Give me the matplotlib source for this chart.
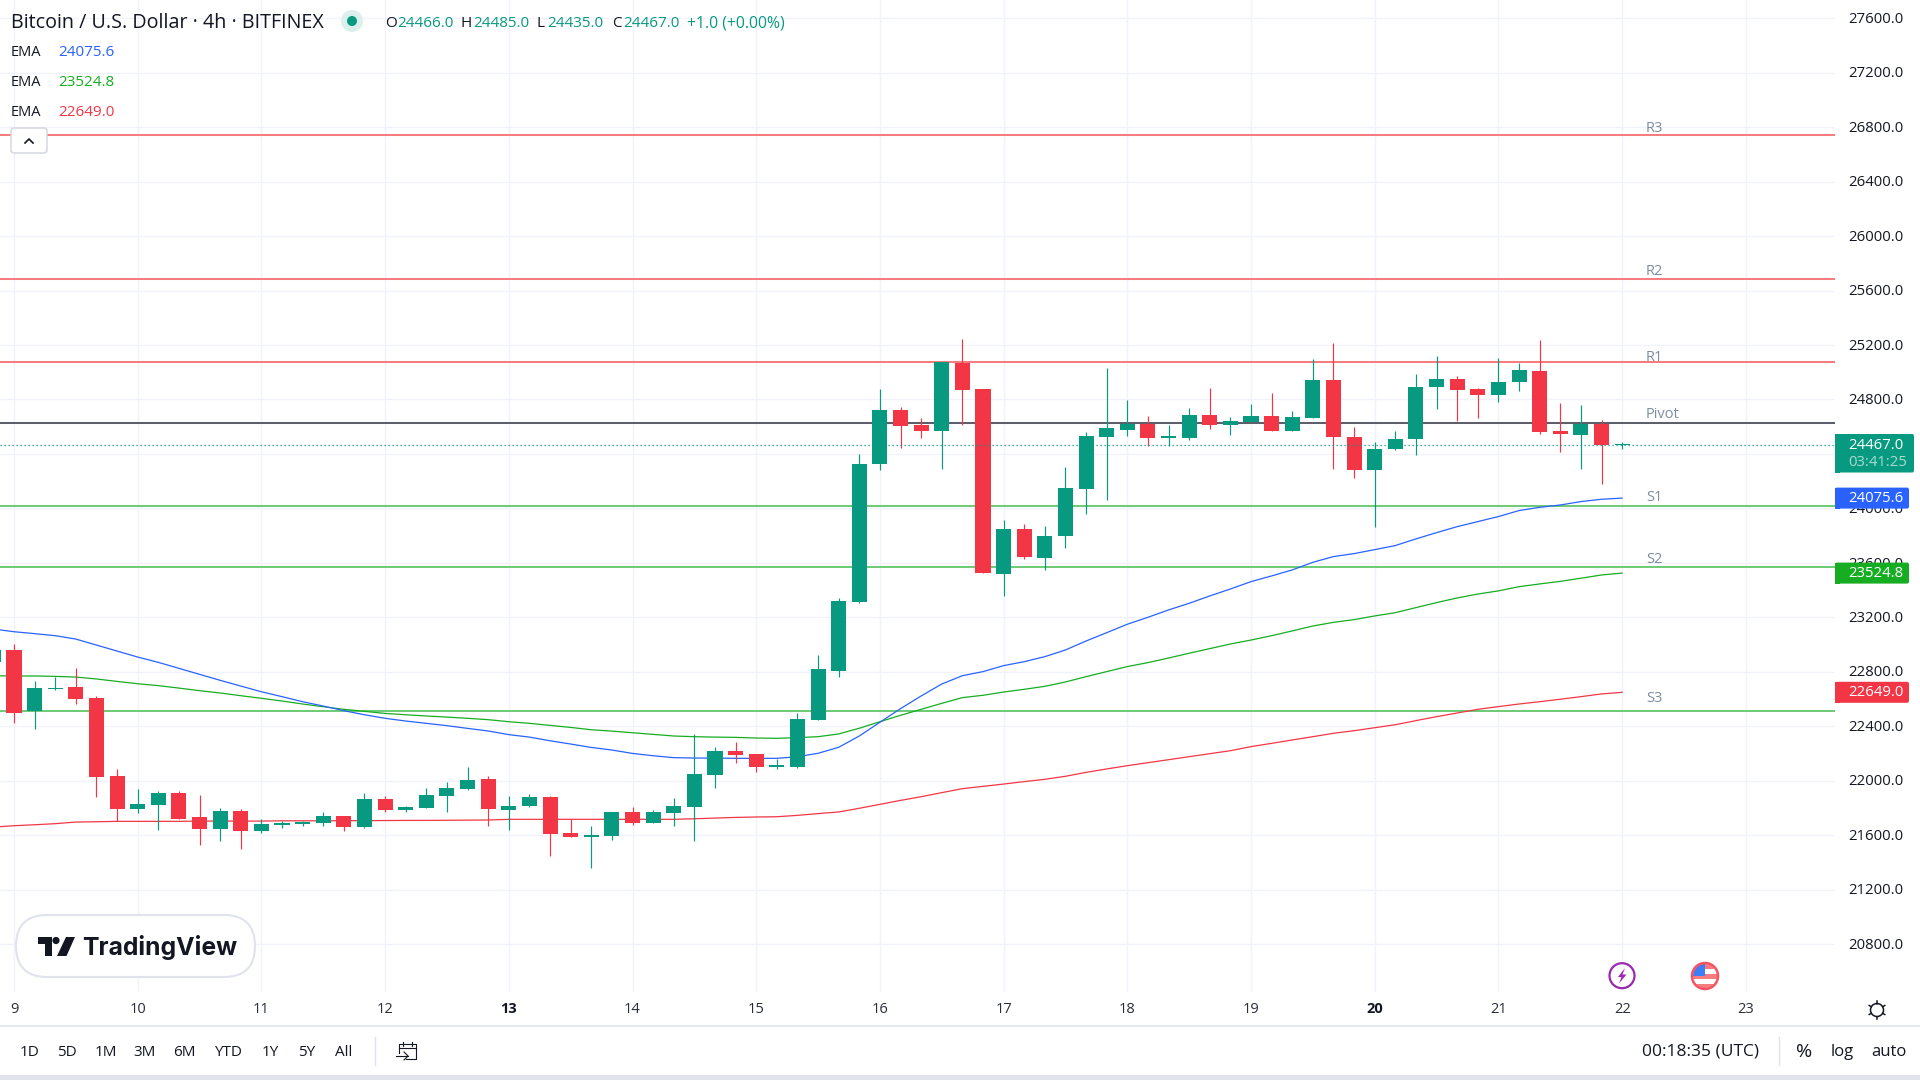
"""BTC/USD 4h chart, TradingView style"""
import numpy as np
import matplotlib
matplotlib.use('Agg')
import matplotlib.pyplot as plt
from matplotlib.patches import Circle, FancyBboxPatch, Polygon, Rectangle
from matplotlib.transforms import ScaledTranslation

plt.rcParams['font.family'] = ['Open Sans', 'DejaVu Sans']

# candles, first one is cut by the left edge
bars = np.arange(-1, 79)
opens = [22874, 22960, 22511, 22673, 22688, 22607, 22034, 21791, 21821, 21909,
         21733, 21645, 21777, 21630, 21674, 21681, 21689, 21740, 21659, 21865,
         21784, 21799, 21887, 21938, 22012, 21784, 21813, 21880, 21615, 21586,
         21593, 21769, 21689, 21762, 21806, 22041, 22218, 22196, 22100, 22100,
         22445, 22806, 23312, 24326, 24723, 24613, 24568, 25068, 24877, 23518,
         23848, 23635, 23797, 24142, 24524, 24576, 24620, 24517, 24517, 24686,
         24613, 24635, 24679, 24568, 24664, 24943, 24524, 24282, 24436, 24510,
         24892, 24951, 24877, 24833, 24928, 25009, 24568, 24539, 24620, 24466]
highs = [22980, 23004, 22732, 22764, 22827, 22622, 22085, 21938, 21924, 21924,
         21894, 21799, 21791, 21718, 21703, 21703, 21769, 21740, 21909, 21887,
         21813, 21946, 21990, 22100, 22034, 21887, 21902, 21887, 21718, 21667,
         21769, 21806, 21784, 21872, 22342, 22247, 22284, 22196, 22159, 22497,
         22923, 23342, 24400, 24877, 24745, 24664, 25075, 25244, 24877, 23915,
         23885, 23871, 24304, 24561, 25031, 24796, 24679, 24613, 24737, 24884,
         24671, 24767, 24848, 24715, 25097, 25215, 24598, 24488, 24568, 24987,
         25119, 24973, 24884, 25105, 25068, 25237, 24774, 24760, 24649, 24485]
lows = [22850, 22426, 22382, 22668, 22563, 21882, 21701, 21762, 21637, 21718,
        21527, 21556, 21498, 21615, 21652, 21667, 21667, 21630, 21652, 21769,
        21769, 21799, 21769, 21931, 21667, 21637, 21806, 21446, 21586, 21358,
        21564, 21674, 21689, 21667, 21556, 21946, 22129, 22063, 22085, 22093,
        22445, 22762, 23305, 24282, 24444, 24517, 24289, 24613, 23525, 23357,
        23628, 23547, 23709, 23959, 24062, 24532, 24458, 24458, 24502, 24583,
        24539, 24635, 24568, 24568, 24664, 24289, 24223, 23867, 24429, 24392,
        24730, 24642, 24664, 24782, 24862, 24546, 24414, 24289, 24179, 24435]
closes = [22960, 22499, 22680, 22680, 22600, 22029, 21791, 21828, 21909, 21718,
          21645, 21777, 21630, 21681, 21689, 21696, 21740, 21659, 21865, 21784,
          21806, 21894, 21946, 22004, 21791, 21813, 21880, 21608, 21586, 21600,
          21769, 21689, 21769, 21813, 22049, 22218, 22188, 22100, 22115, 22453,
          22820, 23320, 24326, 24723, 24605, 24568, 25075, 24870, 23525, 23848,
          23643, 23797, 24150, 24532, 24591, 24620, 24517, 24532, 24686, 24613,
          24642, 24679, 24568, 24671, 24943, 24524, 24282, 24436, 24510, 24892,
          24951, 24870, 24833, 24928, 25017, 24561, 24546, 24620, 24466, 24467]

ema_blue = [23114, 23094, 23080, 23065, 23040, 22996, 22952, 22908, 22869, 22825,
            22781, 22737, 22695, 22653, 22617, 22580, 22548, 22514, 22484, 22458,
            22438, 22421, 22404, 22384, 22365, 22338, 22320, 22293, 22269, 22244,
            22225, 22200, 22183, 22169, 22166, 22166, 22164, 22164, 22164, 22176,
            22201, 22245, 22328, 22429, 22529, 22622, 22710, 22771, 22801, 22845,
            22874, 22911, 22960, 23026, 23087, 23149, 23200, 23254, 23303, 23357,
            23408, 23462, 23504, 23548, 23604, 23646, 23668, 23697, 23727, 23776,
            23822, 23866, 23903, 23940, 23984, 24008, 24025, 24050, 24067, 24075.6]
ema_green = [22771, 22769, 22769, 22766, 22761, 22747, 22729, 22712, 22698, 22680,
             22661, 22644, 22624, 22605, 22585, 22563, 22543, 22524, 22509, 22494,
             22484, 22475, 22467, 22458, 22448, 22433, 22421, 22406, 22391, 22374,
             22364, 22352, 22340, 22328, 22323, 22320, 22318, 22313, 22311, 22316,
             22323, 22343, 22385, 22433, 22480, 22524, 22568, 22610, 22627, 22651,
             22671, 22693, 22725, 22764, 22801, 22838, 22867, 22901, 22936, 22970,
             23004, 23033, 23065, 23100, 23136, 23163, 23183, 23210, 23234, 23271,
             23308, 23342, 23371, 23394, 23425, 23445, 23464, 23487, 23511, 23524.8]
ema_red = [21659, 21669, 21676, 21684, 21696, 21698, 21701, 21701, 21701, 21701,
           21703, 21703, 21703, 21703, 21705, 21705, 21705, 21706, 21706, 21707,
           21708, 21708, 21709, 21710, 21711, 21716, 21716, 21716, 21716, 21716,
           21716, 21716, 21716, 21716, 21720, 21725, 21730, 21733, 21735, 21745,
           21758, 21770, 21797, 21826, 21855, 21882, 21912, 21941, 21958, 21975,
           21993, 22010, 22032, 22061, 22086, 22110, 22132, 22154, 22176, 22198,
           22220, 22250, 22274, 22299, 22323, 22348, 22367, 22389, 22411, 22441,
           22470, 22497, 22524, 22544, 22563, 22580, 22598, 22617, 22637, 22649]

# pivot levels
level_names = ['R3', 'R2', 'R1', 'Pivot', 'S1', 'S2', 'S3']
level_prices = [26745, 25685, 25075, 24627, 24018, 23572, 22514]
level_colors = ['#f77c80', '#f77c80', '#f77c80', '#5d606b', '#6fcb76', '#6fcb76', '#6fcb76']

price_ticks = list(range(20800, 27601, 400))
day_ticks = list(range(0, 85, 6))
day_labels = ['9', '10', '11', '12', '13', '14', '15', '16', '17', '18', '19', '20', '21', '22', '23']
last_price = 24467.0
range_buttons = ['1D', '5D', '1M', '3M', '6M', 'YTD', '1Y', '5Y', 'All']
range_button_x = [30, 67, 106, 145, 184, 228, 270, 307, 344]

GREEN = '#089981'
RED = '#f23645'
BLUE = '#2962ff'
EMA_GREEN = '#17ad22'
TEXT = '#131722'
GRID = '#f0f3fa'
BORDER = '#e0e3eb'

fig = plt.figure(figsize=(19.2, 10.8), dpi=100, facecolor='white')
ax = fig.add_axes([0, 1 - 992 / 1080, 1835 / 1920, 992 / 1080])

# 1 bar = 20.617 px, bar 0 sits at x=14
ax.set_xlim(-14 / 20.617, 1821 / 20.617)
ax.set_ylim(23200 + (617.3 - 992) * 7.346, 23200 + 617.3 * 7.346)
for s in ax.spines.values():
    s.set_visible(False)

ax.set_yticks(price_ticks)
ax.set_yticklabels([f'{p:.1f}' for p in price_ticks])
ax.yaxis.tick_right()
ax.tick_params(axis='y', length=0, pad=9.4, labelsize=10.7, labelcolor=TEXT)
ax.set_xticks(day_ticks)
ax.set_xticklabels(day_labels)
ax.tick_params(axis='x', length=0, pad=7.5, labelsize=10.5, labelcolor='#2a2e39')
for lab in ax.get_xticklabels():
    if lab.get_text() in ('13', '20'):
        lab.set_fontweight('bold')
        lab.set_color(TEXT)
ax.grid(True, color=GRID, linewidth=1.0)
ax.set_axisbelow(True)

# price labels sit a touch higher than their gridline
for lab in ax.get_yticklabels():
    lab.set_transform(lab.get_transform() + ScaledTranslation(0, 0.6 / 72, fig.dpi_scale_trans))

# the level labels do not keep one distance from their lines
label_offsets = [-1.0, -0.1, -1.9, 0.7, 0.7, -0.1, 3.4]
for name, price, col, off in zip(level_names, level_prices, level_colors, label_offsets):
    ax.axhline(price, color=col, linewidth=1.45, zorder=2)
    ax.annotate(name, (79.15, price), xytext=(0, off), textcoords='offset points',
                fontsize=10.5, color='#7d8ca0', va='bottom', ha='left', zorder=2)

ax.plot(bars, ema_red, color=RED, linewidth=0.9, zorder=3)
ax.plot(bars, ema_green, color=EMA_GREEN, linewidth=0.9, zorder=3)
ax.plot(bars, ema_blue, color=BLUE, linewidth=0.9, zorder=3)

o = np.array(opens)
c = np.array(closes)
colors = [GREEN if cl >= op else RED for op, cl in zip(o, c)]
ax.vlines(bars, lows, highs, colors=colors, linewidth=0.85, zorder=4)
# doji bodies still need a visible height
heights = np.maximum(np.abs(c - o), 8)
ax.bar(bars, heights, bottom=np.minimum(o, c), width=0.73, color=colors, linewidth=0, zorder=4)

ax.axhline(last_price, color=GREEN, linewidth=0.9, linestyle=(0, (1, 2.2)), zorder=5)

# everything outside the chart pane, in pixels
ov = fig.add_axes([0, 0, 1, 1], zorder=5)
ov.set_xlim(0, 1920)
ov.set_ylim(1080, 0)
ov.axis('off')
ov.patch.set_alpha(0)


def price_to_y(p):
    return 617.3 - (p - 23200) / 7.346


def price_tag(price, col, txt, x1=1909, h=21):
    yc = price_to_y(price)
    ov.add_patch(FancyBboxPatch((1835, yc - h / 2), x1 - 1835, h, boxstyle='round,pad=0,rounding_size=2',
                                facecolor=col, edgecolor='none'))
    ov.add_patch(Rectangle((1835, yc - h / 2), 5, h, facecolor=col, edgecolor='none'))
    ov.text(1848, yc + 0.5, txt, color='white', fontsize=10.7, va='center', ha='left')


ov.add_patch(FancyBboxPatch((1835, 434), 79, 38.5, boxstyle='round,pad=0,rounding_size=2',
                            facecolor=GREEN, edgecolor='none'))
ov.add_patch(Rectangle((1835, 434), 5, 38.5, facecolor=GREEN, edgecolor='none'))
ov.text(1848, 445.5, f'{last_price:.1f}', color='white', fontsize=10.7, va='center', ha='left')
ov.text(1848, 463, '03:41:25', color='#a9dcd2', fontsize=10.7, va='center', ha='left')
price_tag(ema_blue[-1], BLUE, f'{ema_blue[-1]:.1f}')
price_tag(ema_green[-1], EMA_GREEN, f'{ema_green[-1]:.1f}')
price_tag(ema_red[-1], RED, f'{ema_red[-1]:.1f}')

# header
ov.text(11, 23, 'Bitcoin / U.S. Dollar · 4h · BITFINEX', fontsize=14.2, color=TEXT, va='center', ha='left')
ov.add_patch(Circle((352, 21), 11, facecolor='#dbf0ec', edgecolor='none'))
ov.add_patch(Circle((352, 21), 5, facecolor=GREEN, edgecolor='none'))
for lab, lx, val, vx in [('O', 385, '24466.0', 397), ('H', 461, '24485.0', 473),
                         ('L', 537, '24435.0', 547), ('C', 612, '24467.0', 623)]:
    ov.text(lx, 23.5, lab, fontsize=11, color=TEXT, va='center', ha='left')
    ov.text(vx, 23.5, val, fontsize=11, color=GREEN, va='center', ha='left')
ov.text(687, 23.5, '+1.0 (+0.00%)', fontsize=11.3, color=GREEN, va='center', ha='left')

for yy, val, col in [(52.5, ema_blue[-1], BLUE), (82.5, ema_green[-1], EMA_GREEN), (112.5, ema_red[-1], RED)]:
    ov.text(11, yy, 'EMA', fontsize=10.5, color=TEXT, va='center', ha='left')
    ov.text(58, yy, f'{val:.1f}', fontsize=11, color=col, va='center', ha='left')

ov.add_patch(FancyBboxPatch((11, 128), 36, 25, boxstyle='round,pad=0,rounding_size=3',
                            facecolor='white', edgecolor='#d1d4dc', linewidth=1))
ov.plot([25, 29, 33], [143, 139, 143], color=TEXT, linewidth=1.2)

# logo
ov.add_patch(FancyBboxPatch((16, 915), 239, 62, boxstyle='round,pad=0,rounding_size=31',
                            facecolor='white', edgecolor=BORDER, linewidth=1.5))
ov.add_patch(Polygon([(37.5, 937), (52, 937), (52, 956), (44.5, 956), (44.5, 943.5), (37.5, 943.5)],
                     facecolor=TEXT, edgecolor='none'))
ov.add_patch(Circle((56, 940.5), 3.6, facecolor=TEXT, edgecolor='none'))
ov.add_patch(Polygon([(66, 937), (75, 937), (66.5, 956), (57, 956)], facecolor=TEXT, edgecolor='none'))
ov.text(82, 947, 'TradingView', fontsize=17.8, fontfamily='Inter', fontweight='bold',
        color=TEXT, va='center', ha='left')

# event icons on the time axis
ov.add_patch(Circle((1622, 975.7), 12.5, facecolor='white', edgecolor='#9c27b0', linewidth=1.6))
ov.add_patch(Polygon([(1625, 968), (1618, 977), (1621.5, 977), (1619, 983.5), (1626.5, 974.5), (1622.5, 974.5)],
                     facecolor='#9c27b0', edgecolor='none'))
ring = Circle((1705, 976), 12, transform=ov.transData)
for top, col in [(964, '#f77c80'), (969, 'white'), (974, '#f77c80'), (979, 'white'), (984, '#f77c80')]:
    st = ov.add_patch(Rectangle((1690, top), 30, 5, facecolor=col, edgecolor='none'))
    st.set_clip_path(ring)
canton = ov.add_patch(Rectangle((1690, 962), 15, 14, facecolor='#3d7df5', edgecolor='none'))
canton.set_clip_path(ring)
ov.add_patch(Circle((1705, 976), 13, facecolor='none', edgecolor='#f7525f', linewidth=1.8))

# gear
ov.add_patch(Circle((1877, 1010), 6.5, facecolor='white', edgecolor=TEXT, linewidth=1.1))
for ang in np.deg2rad(np.arange(0, 360, 60) + 30):
    ov.plot([1877 + 6.5 * np.cos(ang), 1877 + 9 * np.cos(ang)],
            [1010 + 6.5 * np.sin(ang), 1010 + 9 * np.sin(ang)], color=TEXT, linewidth=1.1)

# bottom toolbar
ov.plot([0, 1920], [1026, 1026], color=BORDER, linewidth=1.2)
ov.add_patch(Rectangle((0, 1075), 1920, 5, facecolor=BORDER, edgecolor='none'))
for lab, bx in zip(range_buttons, range_button_x):
    ov.text(bx, 1052, lab, fontsize=11, color=TEXT, va='center', ha='center')
ov.plot([375, 375], [1037, 1065], color=BORDER, linewidth=1)
ov.plot([1779, 1779], [1037, 1065], color=BORDER, linewidth=1)

# calendar button
ov.plot([399, 399, 416, 416, 406], [1053, 1044, 1044, 1059, 1059], color=TEXT, linewidth=0.8)
ov.plot([399, 416], [1048, 1048], color=TEXT, linewidth=0.8)
ov.plot([403, 403], [1042, 1046], color=TEXT, linewidth=0.8)
ov.plot([412, 412], [1042, 1046], color=TEXT, linewidth=0.8)
ov.plot([396, 408], [1056, 1056], color=TEXT, linewidth=0.8)
ov.plot([404, 408, 404], [1052, 1056, 1060], color=TEXT, linewidth=0.8)

ov.text(1700, 1052, '00:18:35 (UTC)', fontsize=12.5, color=TEXT, va='center', ha='center')
ov.text(1804, 1052, '%', fontsize=14, color=TEXT, va='center', ha='center')
ov.text(1842, 1052, 'log', fontsize=12, color=TEXT, va='center', ha='center')
ov.text(1889, 1052, 'auto', fontsize=12, color=TEXT, va='center', ha='center')

plt.savefig('out.png', dpi=100)
